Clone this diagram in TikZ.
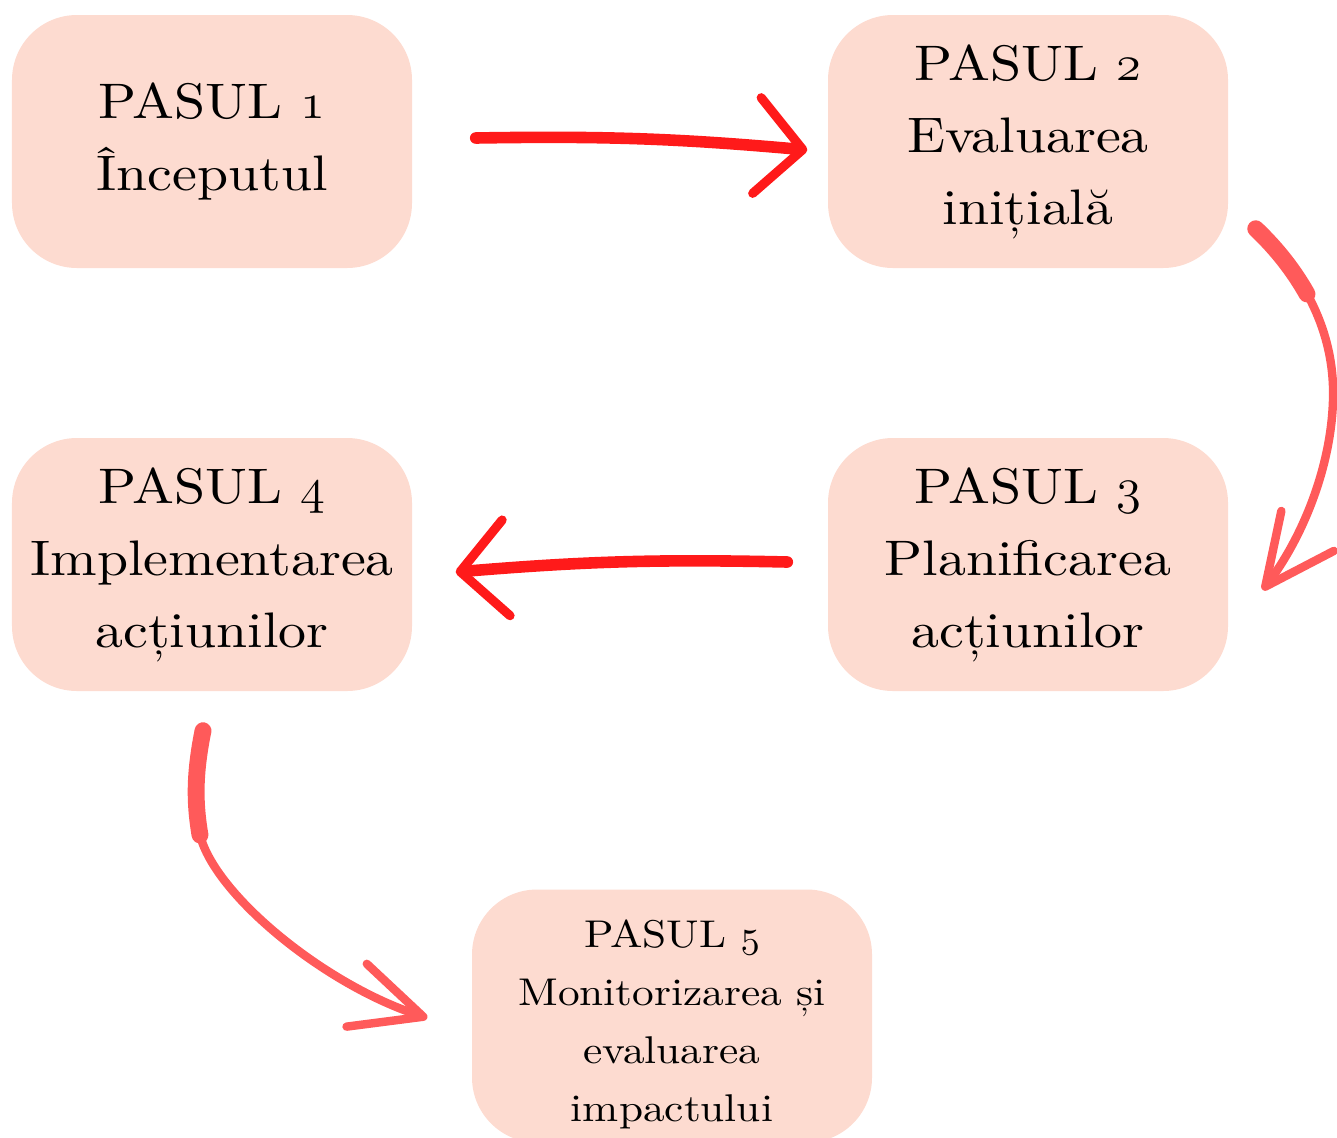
\documentclass[tikz,border=0pt]{standalone}
\usepackage{fontspec}
\setmainfont{lmroman10-regular.otf}[FakeStretch=1.12]
\usetikzlibrary{positioning, arrows.meta}
\definecolor{pasfill}{RGB}{253,219,208}
\definecolor{rosu}{RGB}{255,26,26}
\definecolor{rosudeschis}{RGB}{255,90,90}
\newcommand{\nr}[1]{$\mathnormal{#1}$}
\tikzset{%
	pas/.style = {name = #1, rectangle, rounded corners = 0.65cm, fill = pasfill, minimum width = 4cm, minimum height = 2.53cm, inner sep = 0pt, align = center, font = \fontsize{14.2pt}{20.5pt}\selectfont},
	mic/.style = {align = center, yshift = -0.08cm, font = \fontsize{11pt}{16.5pt}\selectfont},
	brush/.style = {draw = rosu, line width = 3.3pt, line cap = round, -{Straight Barb[round, length = 4.6mm, width = 9.6mm, line width = 2.6pt]}},
	softbrush/.style = {draw = rosudeschis, line width = 2.4pt, line cap = round, -{Straight Barb[round, length = 7mm, width = 6.6mm, line width = 2.4pt]}},
	thickstart/.style = {draw = rosudeschis, line width = 4.8pt, line cap = round}
}
\begin{document}
\begin{tikzpicture}
			\useasboundingbox (0,0) rectangle (13.37,-11.37);
			\node [pas = {P1}] at (2.12,-1.415) {PASUL \nr{1}\\Începutul};
			\node [pas = {P2}] at (10.28,-1.415) {PASUL \nr{2}\\Evaluarea\\inițială};
			\node [pas = {P3}] at (10.28,-5.645) {PASUL \nr{3}\\Planificarea\\acțiunilor};
			\node [pas = {P4}] at (2.12,-5.645) {PASUL \nr{4}\\Implementarea\\acțiunilor};
			\node [pas = {P5}, label = {[mic]center:{PASUL \nr{5}\\Monitorizarea și\\evaluarea\\impactului}}] at (6.72,-10.16) {};
			\coordinate (c23s) at ([shift={(0.27,0.40)}]P2.south east);
			\coordinate (c23e) at ([shift={(0.34,-0.255)}]P3.east);
			\coordinate (c45s) at ([shift={(-0.09,-0.39)}]P4.south);
			\coordinate (c45e) at ([shift={(-0.44,-0.02)}]P5.west);
			\draw [brush] ([shift={(0.63,0.035)}]P1.east) to [bend left = 3] ([shift={(-0.20,-0.085)}]P2.west);
			\draw [brush] ([shift={(-0.40,0.025)}]P3.west) to [bend right = 3] ([shift={(0.43,-0.075)}]P4.east);
			% P2 -> P3, brush start is thicker
			\draw [thickstart] (c23s) .. controls +(0.22,-0.21) and +(-0.13,0.23) .. (13.07,-2.94);
			\draw [softbrush] (c23s) .. controls +(0.55,-0.52) and +(0.02,0.60) .. (13.33,-4.00) .. controls +(-0.02,-0.70) and +(0.38,0.50) .. (c23e);
			% P4 -> P5
			\draw [thickstart] (c45s) .. controls +(-0.08,-0.40) and +(-0.06,0.35) .. (2.00,-8.35);
			\draw [softbrush] (c45s) .. controls +(-0.08,-0.40) and +(-0.06,0.35) .. (2.00,-8.35) .. controls (2.15,-8.95) and (3.25,-9.85) .. (c45e);
\end{tikzpicture}
\end{document}
